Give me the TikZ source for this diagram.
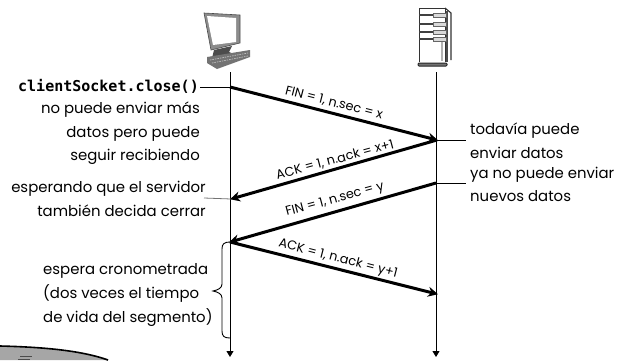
\documentclass[tikz,border=0pt]{standalone}
\usepackage{fontspec}
\setmainfont{Poppins}
\newfontfamily\codefont{DejaVu Sans Mono}
\usetikzlibrary{arrows.meta}
\tikzset{
  note/.style={inner sep=0pt,font=\fontsize{14.9}{16}\selectfont,text=black},
  notel/.style={note,anchor=base east},
  noter/.style={note,anchor=base west},
  msg/.style={inner sep=0pt,font=\fontsize{12.8}{13}\selectfont},
  timeline/.style={draw=black,line width=1pt,-{Triangle[length=6pt,width=7pt]}},
  segment/.style={draw=black,line width=3pt,-{Stealth[length=10pt,width=10pt]},shorten >=-1pt},
  tick/.style={draw=black,line width=0.8pt},
  ticklight/.style={draw=black!55,line width=0.8pt},
}
\begin{document}
\begin{tikzpicture}[x=1pt,y=-1pt]
\useasboundingbox (0,0) rectangle (619,360);
% timelines
\coordinate (ltop) at (230,72); \coordinate (lbot) at (230,357);
\coordinate (rtop) at (436,72); \coordinate (rbot) at (436,357);
\draw[timeline] (ltop) -- (lbot);
\draw[timeline] (rtop) -- (rbot);
% events
\coordinate (c1) at (230,87);  \coordinate (s1) at (437,140);
\coordinate (c2) at (231,199); \coordinate (s2) at (436,183);
\coordinate (c3) at (230,242); \coordinate (s3) at (437,294);
\draw[segment] (c1) -- (s1);
\draw[segment] (s1) -- (c2);
\draw[segment] (s2) -- (c3);
\draw[segment] (c3) -- (s3);
% messages
\node[msg,rotate=-14.5] (m1) at (334,103) {FIN = 1, n.sec = x};
\node[msg,rotate=15] (m2) at (335,160) {ACK = 1, n.ack = x+1};
\node[msg,rotate=15] (m3) at (335,200) {FIN = 1, n.sec = y};
\node[msg,rotate=-14.5] (m4) at (338,259) {ACK = 1, n.ack = y+1};
% left notes
\node[notel,font=\codefont\bfseries\fontsize{15}{16}\selectfont] (a0) at (199,91) {clientSocket.close()};
\node[notel] (a1) at (200,113) {no puede enviar más};
\node[notel] (a2) at (200,137) {datos pero puede};
\node[notel] (a3) at (200,160) {seguir recibiendo};
\node[notel] (a4) at (206,192) {esperando que el servidor};
\node[notel] (a5) at (206,216) {también decida cerrar};
\node[noter] (b1) at (43,274) {espera cronometrada};
\node[noter] (b2) at (43,298) {(dos veces el tiempo};
\node[noter] (b3) at (43,322) {de vida del segmento)};
% right notes
\node[noter] (r1) at (470,134) {todavía puede};
\node[noter] (r2) at (470,158) {enviar datos};
\node[noter] (r3) at (470,178) {ya no puede enviar};
\node[noter] (r4) at (470,201) {nuevos datos};
% leader lines
\coordinate (e1) at (200,87); \coordinate (e2) at (204,198);
\coordinate (e3) at (466,140); \coordinate (e4) at (466,183);
\draw[tick] (e1) -- (c1);
\draw[ticklight] (e2) -- (c2);
\draw[tick] (s1) -- (e3);
\draw[tick] (s2) -- (e4);
% brace
\draw[line width=0.9pt,line cap=round] (c3) .. controls (224,242) and (222,244) .. (222,249)
  -- (222,284) .. controls (222,288) and (218,290) .. (213,291)
  .. controls (218,292) and (222,294) .. (222,298)
  -- (222,331) .. controls (222,336) and (224,338) .. (230,338);
% client computer
\fill[black!45] (204,13) -- (240,15) -- (240,43) -- (211,50) -- cycle;
\draw[black!70,line width=0.6pt] (204,13) -- (240,15) -- (240,43) -- (211,50) -- cycle;
\fill[white] (207,16) -- (236,18) -- (236,42) -- (213,45) -- cycle;
\fill[black!70] (214,50) -- (232,46) -- (229,52) -- (234,54) -- (212,58) -- cycle;
\fill[black!55] (207,57) -- (250,50) -- (250,57) -- (217,69) -- (207,63) -- cycle;
\draw[black!25,line width=0.7pt,dash pattern=on 1.5pt off 1pt] (210,60) -- (248,53);
\draw[black!25,line width=0.7pt,dash pattern=on 1.5pt off 1pt] (212,63) -- (248,56);
% server
\draw[black!80,line width=0.7pt] (419,8) -- (445,8) -- (445,62);
\draw[black!80,line width=0.7pt] (419,8) -- (419,62);
\draw[black!80,line width=1.1pt] (445,8) -- (451,13) -- (451,60);
\draw[black!70,line width=1.5pt] (447,11) -- (447,62);
\foreach \y in {15,24,32,39}{
  \draw[black!75,line width=1.2pt] (419,\y) -- (433,\y);
  \draw[black!60,fill=black!15,line width=0.7pt] (433,\y-1.5) rectangle (446,\y+2);
}
\fill[black!30] (441,42) rectangle (443,61);
\draw[black!85,fill=black!55,line width=1pt,rounded corners=1pt] (418,63) rectangle (447,66);
% texture corner
\fill[black!35] (0,346) .. controls (40,347) and (80,350) .. (108,360) -- (0,360) -- cycle;
\draw[black,line width=1.6pt] (0,346) .. controls (40,347) and (80,350) .. (108,360);
\draw[black!70,line width=0.6pt] (20,356) -- (32,356) (18,359) -- (30,359);
\end{tikzpicture}
\end{document}
